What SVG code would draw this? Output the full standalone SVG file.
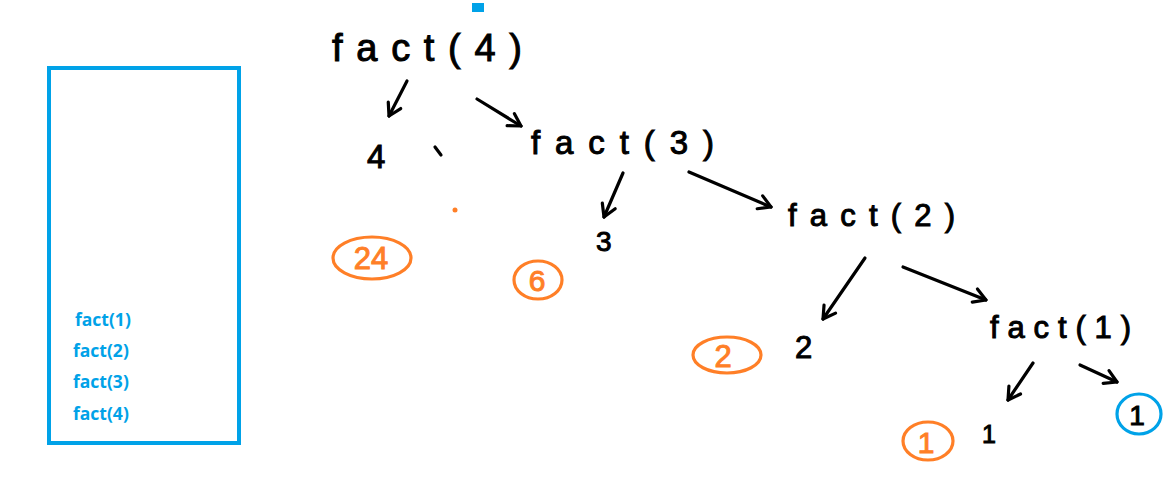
<svg xmlns="http://www.w3.org/2000/svg" width="1164" height="496" viewBox="0 0 1164 496">
<style>
.hw{font-family:"Liberation Sans","DejaVu Sans",sans-serif;fill:#000;stroke:#000;stroke-width:1;}
.or{font-family:"Liberation Sans","DejaVu Sans",sans-serif;fill:#FF7F27;stroke:#FF7F27;stroke-width:1;}
.bl{font-family:"Open Sans","Liberation Sans",sans-serif;font-weight:bold;fill:#00A2E8;font-size:17.5px;}
.edge{stroke:#000;stroke-width:3.2;fill:none;stroke-linecap:round;marker-end:url(#chev);}
.ring-o{fill:none;stroke:#FF7F27;stroke-width:3.2;}
.ring-b{fill:none;stroke:#00A2E8;stroke-width:3.2;}
</style>
<defs>
<marker id="chev" markerUnits="userSpaceOnUse" markerWidth="20" markerHeight="20" refX="0" refY="0" viewBox="-14 -10 16 20" orient="auto">
<path d="M-12,-7 L0,0 L-12,7" fill="none" stroke="#000" stroke-width="3.2" stroke-linecap="round" stroke-linejoin="round"/>
</marker>
</defs>
<rect width="1164" height="496" fill="#fff"/>

<g id="stack">
<rect x="49" y="68" width="190" height="375" fill="none" stroke="#00A2E8" stroke-width="4"/>
<text class="bl" x="75" y="326">fact(1)</text>
<text class="bl" x="73" y="357">fact(2)</text>
<text class="bl" x="73" y="388">fact(3)</text>
<text class="bl" x="73" y="420">fact(4)</text>
</g>

<g id="marker-square"><rect x="472" y="3" width="12" height="9" fill="#00A2E8"/></g>

<g id="fact4"><text class="hw" x="332" y="61" font-size="38" textLength="190" lengthAdjust="spacing">fact(4)</text></g>
<g id="val4"><text class="hw" x="367" y="168" font-size="33">4</text>
<path d="M435,147 L441,155" stroke="#000" stroke-width="3.2" stroke-linecap="round"/></g>
<g id="fact3"><text class="hw" x="531" y="154" font-size="33" textLength="183" lengthAdjust="spacing">fact(3)</text></g>
<g id="val3"><text class="hw" x="596" y="251" font-size="28">3</text></g>
<g id="fact2"><text class="hw" x="788" y="226" font-size="31" textLength="167" lengthAdjust="spacing">fact(2)</text></g>
<g id="val2"><text class="hw" x="795" y="358" font-size="31">2</text></g>
<g id="fact1"><text class="hw" x="990" y="338" font-size="31" textLength="141" lengthAdjust="spacing">fact(1)</text></g>
<g id="val1"><text class="hw" x="982" y="443" font-size="25">1</text></g>

<g id="res24"><ellipse class="ring-o" cx="372" cy="258" rx="39" ry="21"/><text class="or" x="371" y="269" font-size="31" text-anchor="middle">24</text></g>
<g id="res6"><ellipse class="ring-o" cx="538" cy="280" rx="24" ry="19"/><text class="or" x="537" y="291" font-size="30" text-anchor="middle">6</text></g>
<g id="res2"><ellipse class="ring-o" cx="727" cy="355" rx="34" ry="18"/><text class="or" x="723" y="367" font-size="31" text-anchor="middle">2</text></g>
<g id="res1"><ellipse class="ring-o" cx="928" cy="441" rx="25" ry="19"/><text class="or" x="926" y="453" font-size="30" text-anchor="middle">1</text></g>
<g id="base1"><ellipse class="ring-b" cx="1139" cy="414" rx="22" ry="20"/><text class="hw" x="1137" y="425" font-size="28" text-anchor="middle">1</text></g>

<circle cx="455" cy="210" r="2.5" fill="#FF7F27"/>

<g id="connectors">
<path class="edge" d="M407,81 L389,116"/>
<path class="edge" d="M477,99 L521,126"/>
<path class="edge" d="M623,173 L604,217"/>
<path class="edge" d="M689,172 L771,207"/>
<path class="edge" d="M865,258 L823,319"/>
<path class="edge" d="M903,267 L986,300"/>
<path class="edge" d="M1033,363 L1008,400"/>
<path class="edge" d="M1080,365 L1117,382"/>
</g>
</svg>
